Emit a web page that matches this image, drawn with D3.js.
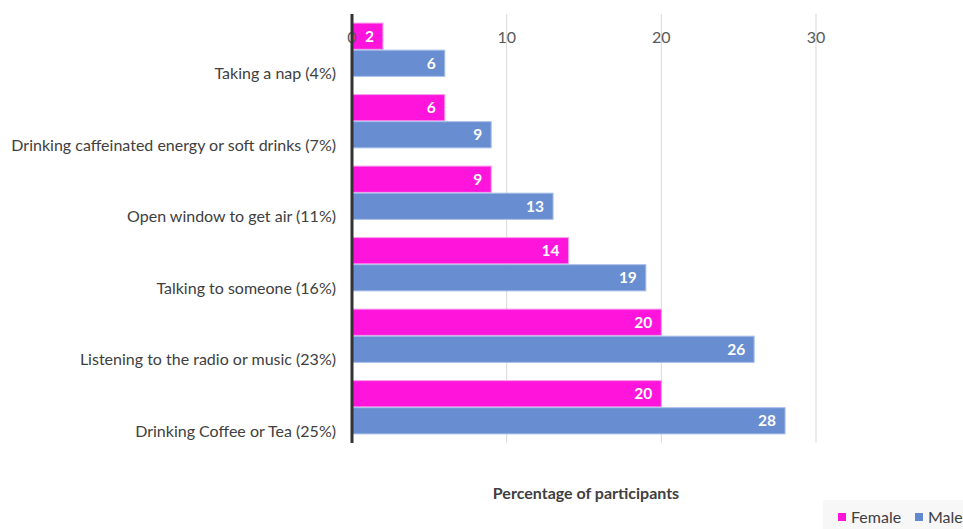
<!DOCTYPE html>
<html>
<head>
<meta charset="utf-8">
<script src="https://cdn.jsdelivr.net/npm/d3@7"></script>
<style>
body { margin:0; background:#fff; }
svg { font-family: Lato, "Open Sans", sans-serif; }
</style>
</head>
<body>
<svg id="chart"></svg>
<script>
var categories = ["Taking a nap (4%)",
                  "Drinking caffeinated energy or soft drinks (7%)",
                  "Open window to get air (11%)",
                  "Talking to someone (16%)",
                  "Listening to the radio or music (23%)",
                  "Drinking Coffee or Tea (25%)"];
var female = [2, 6, 9, 14, 20, 20];
var male = [6, 9, 13, 19, 26, 28];
var ticks = [0, 10, 20, 30];
var seriesNames = ["Female", "Male"];

var screen = {width:963, height:529};
var plot = {left:352, right:816, top:14, bottom:443};

var colors = {Female:"#ff14dc", Male:"#6288ce"};

var svg = d3.select("#chart")
            .attr("width", screen.width)
            .attr("height", screen.height);

var xScale = d3.scaleLinear()
               .domain([0, 30])
               .range([plot.left, plot.right]);

var yScale = d3.scaleBand()
               .domain(categories)
               .range([plot.top, plot.bottom])
               .paddingInner(0.255)
               .paddingOuter(0.127);

var inner = d3.scaleBand()
              .domain(seriesNames)
              .range([0, yScale.bandwidth()])
              .paddingInner(0.03);

// gridlines
svg.append("g")
   .selectAll("line")
   .data(ticks.slice(1))
   .enter()
   .append("line")
   .attr("x1", function(d){ return xScale(d); })
   .attr("x2", function(d){ return xScale(d); })
   .attr("y1", plot.top)
   .attr("y2", plot.bottom)
   .attr("stroke", "#d9d9d9")
   .attr("stroke-width", 1);

var rows = categories.map(function(c, i){
  return {cat:c, values:[{s:"Female", v:female[i]}, {s:"Male", v:male[i]}]};
});

var groups = svg.append("g")
   .selectAll("g")
   .data(rows)
   .enter()
   .append("g")
   .attr("transform", function(d){ return "translate(0," + yScale(d.cat) + ")"; });

groups.selectAll("rect")
   .data(function(d){ return d.values; })
   .enter()
   .append("rect")
   .attr("x", xScale(0))
   .attr("y", function(d){ return inner(d.s); })
   .attr("width", function(d){ return xScale(d.v) - xScale(0); })
   .attr("height", inner.bandwidth())
   .attr("fill", function(d){ return colors[d.s]; })
   .attr("fill-opacity", function(d){ return d.s == "Male" ? 0.96 : 1; })
   .attr("stroke", function(d){ return d.s == "Male" ? "#a9c0ea" : "#f89be9"; })
   .attr("stroke-width", 1);

groups.selectAll("text")
   .data(function(d){ return d.values; })
   .enter()
   .append("text")
   .attr("x", function(d){ return xScale(d.v) - 9; })
   .attr("y", function(d){ return inner(d.s) + inner.bandwidth()/2; })
   .attr("dy", "0.36em")
   .attr("text-anchor", "end")
   .attr("fill", "#fff")
   .attr("font-weight", "bold")
   .attr("font-size", "15.5px")
   .text(function(d){ return d.v; });

// category labels (sit a bit low in the original)
svg.append("g")
   .selectAll("text")
   .data(categories)
   .enter()
   .append("text")
   .attr("x", 336)
   .attr("y", function(d){ return yScale(d) + yScale.bandwidth()/2 + 24; })
   .attr("dy", "0.35em")
   .attr("text-anchor", "end")
   .attr("fill", "#404040")
   .attr("font-size", "16px")
   .text(function(d){ return d; });

// top tick labels
svg.append("g")
   .selectAll("text")
   .data(ticks)
   .enter()
   .append("text")
   .attr("x", function(d){ return xScale(d); })
   .attr("y", 37)
   .attr("dy", "0.35em")
   .attr("text-anchor", "middle")
   .attr("fill", "#595959")
   .attr("font-size", "16px")
   .text(function(d){ return d; });

// vertical axis line
svg.append("line")
   .attr("x1", xScale(0))
   .attr("x2", xScale(0))
   .attr("y1", plot.top)
   .attr("y2", plot.bottom)
   .attr("stroke", "#333")
   .attr("stroke-width", 3);

svg.append("text")
   .attr("x", 586)
   .attr("y", 493)
   .attr("dy", "0.35em")
   .attr("text-anchor", "middle")
   .attr("font-weight", "bold")
   .attr("font-size", "16px")
   .attr("fill", "#404040")
   .text("Percentage of participants");

// legend
var legend = svg.append("g");
legend.append("rect")
   .attr("x", 823).attr("y", 500)
   .attr("width", 140).attr("height", 29)
   .attr("fill", "#f7f7f7");
var lx = [838, 915];
seriesNames.forEach(function(s, i){
  legend.append("rect")
    .attr("x", lx[i]).attr("y", 513)
    .attr("width", 8).attr("height", 8)
    .attr("fill", colors[s]);
  legend.append("text")
    .attr("x", lx[i] + 13).attr("y", 517)
    .attr("dy", "0.35em")
    .attr("fill", "#404040")
    .attr("font-size", "16px")
    .text(s);
});
</script>
</body>
</html>
